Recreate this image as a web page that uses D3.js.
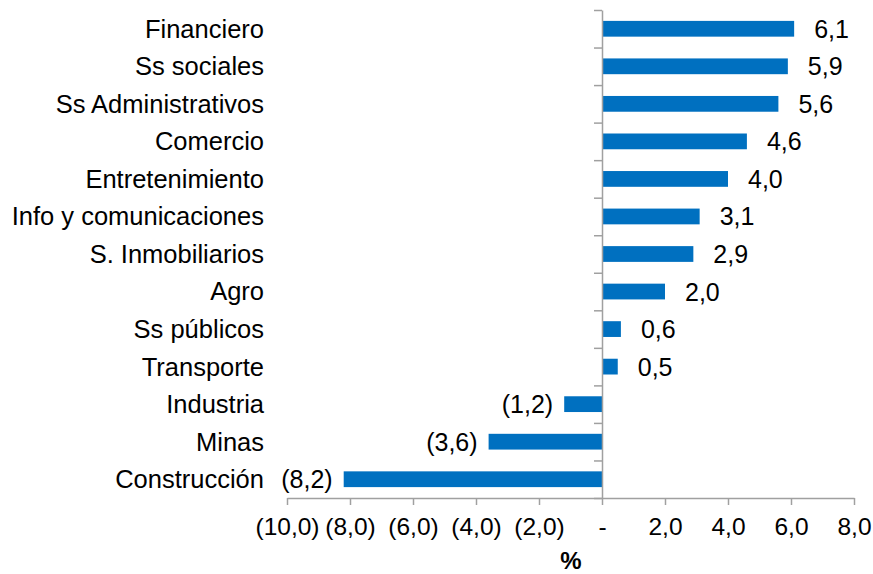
<!DOCTYPE html>
<html>
<head>
  <meta charset="utf-8">
  <style>
    body { margin: 0; background: #fff; }
    text { font-family: "Liberation Sans", Arial, sans-serif; fill: #000; }
    .axis path, .axis line { stroke: #a0a0a0; stroke-width: 1.5px; }
    .bar { fill: #0070c0; }
  </style>
</head>
<body>
  <svg width="873" height="574"></svg>
  <script src="https://cdn.jsdelivr.net/npm/d3@7"></script>
  <script>

  var sectors = ["Financiero", "Ss sociales", "Ss Administrativos", "Comercio", "Entretenimiento",
                 "Info y comunicaciones", "S. Inmobiliarios", "Agro", "Ss públicos", "Transporte",
                 "Industria", "Minas", "Construcción"];
  var growth = [6.1, 5.9, 5.6, 4.6, 4.0, 3.1, 2.9, 2.0, 0.6, 0.5, -1.2, -3.6, -8.2];
  var xTicks = [-10, -8, -6, -4, -2, 0, 2, 4, 6, 8];
  var xTitle = "%";

  var svg = d3.select("svg");

  var x = d3.scaleLinear().domain([-10, 8]).range([287, 854]);
  var y = d3.scaleBand().domain(sectors).range([10, 498]).paddingInner(0.58).paddingOuter(0.29);
  var yPos = d3.scaleLinear().domain([0, sectors.length]).range([10, 498]);

  // number format: 1 decimal, comma, negatives in brackets, zero as "-"
  var fmt = function(v) {
    if (v === 0) return "-";
    var s = Math.abs(v).toFixed(1).replace(".", ",");
    return v < 0 ? "(" + s + ")" : s;
  };

  svg.selectAll(".bar")
    .data(growth)
    .enter().append("rect")
      .attr("class", "bar")
      .attr("x", function(d) { return x(Math.min(0, d)); })
      .attr("y", function(d, i) { return y(sectors[i]); })
      .attr("width", function(d) { return Math.abs(x(d) - x(0)); })
      .attr("height", y.bandwidth());

  // x axis
  var xAxis = svg.append("g")
    .attr("class", "axis")
    .attr("transform", "translate(0,498)")
    .call(d3.axisBottom(x).tickValues(xTicks).tickFormat(fmt).tickSize(7).tickSizeOuter(0).tickPadding(13));
  xAxis.selectAll("text").style("font-size", "24.5px").attr("fill", "#000");

  // vertical axis at zero with ticks between categories
  svg.append("g")
    .attr("class", "axis")
    .attr("transform", "translate(" + x(0) + ",0)")
    .call(d3.axisLeft(yPos).tickValues(d3.range(sectors.length + 1)).tickFormat("").tickSize(8).tickSizeOuter(0));

  // category labels
  svg.selectAll(".cat")
    .data(sectors)
    .enter().append("text")
      .attr("class", "cat")
      .attr("x", 264)
      .attr("y", function(d) { return y(d) + y.bandwidth() / 2; })
      .attr("dy", "0.35em")
      .attr("text-anchor", "end")
      .style("font-size", "25.5px")
      .text(function(d) { return d; });

  // value labels
  svg.selectAll(".val")
    .data(growth)
    .enter().append("text")
      .attr("class", "val")
      .attr("x", function(d) { return d < 0 ? x(d) - 11 : x(d) + 20; })
      .attr("y", function(d, i) { return y(sectors[i]) + y.bandwidth() / 2; })
      .attr("dy", "0.36em")
      .attr("text-anchor", function(d) { return d < 0 ? "end" : "start"; })
      .style("font-size", "25px")
      .text(fmt);

  svg.append("text")
    .attr("x", 571)
    .attr("y", 569)
    .attr("text-anchor", "middle")
    .style("font-size", "24px")
    .style("font-weight", "bold")
    .text(xTitle);

  </script>
</body>
</html>
